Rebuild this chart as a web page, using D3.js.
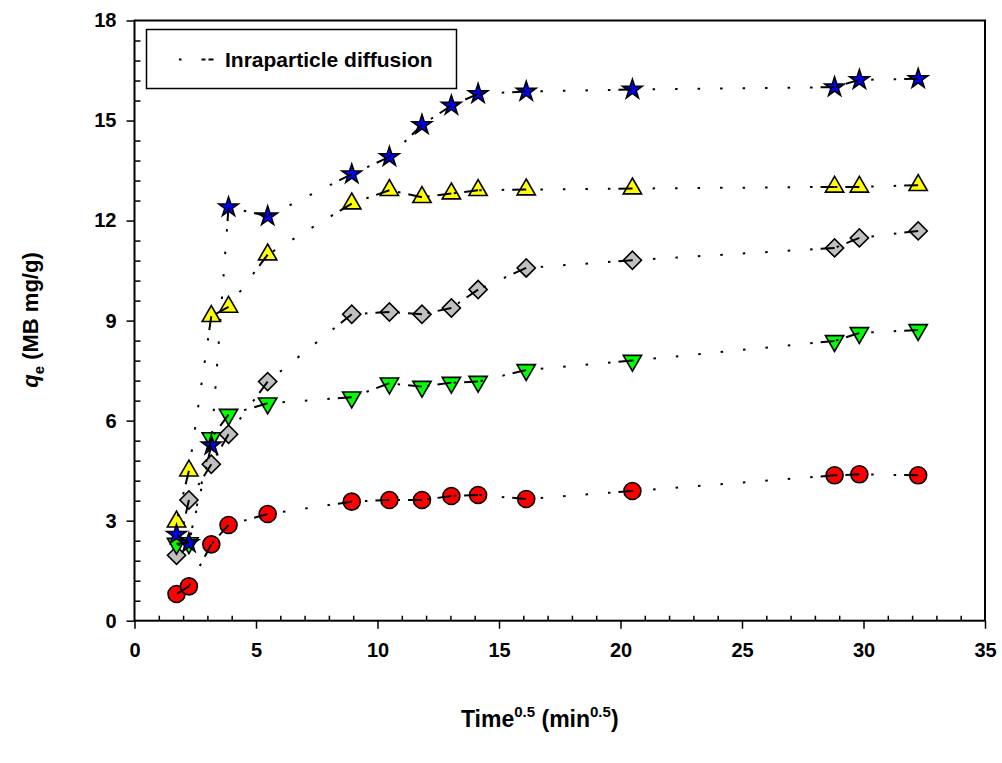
<!DOCTYPE html>
<html>
<head>
<meta charset="utf-8">
<script src="https://cdn.jsdelivr.net/npm/d3@7"></script>
<style>
    body { margin: 0; background: #fff; }
    text { font-family: "Liberation Sans", Arial, sans-serif; font-weight: bold; fill: #000; }
</style>
</head>
<body>
<svg id="chart" width="1002" height="763"></svg>
<script>
// sqrt(time) values shared by all series
const timeSqrt = [1.73, 2.24, 3.16, 3.87, 5.48, 8.94, 10.49, 11.83, 13.04, 14.14, 16.12, 20.49, 28.81, 29.83, 32.25];

// qe values, one array per marker series
const qCircle   = [0.80, 1.03, 2.29, 2.87, 3.20, 3.57, 3.62, 3.62, 3.74, 3.77, 3.65, 3.89, 4.36, 4.39, 4.36];
const qTriDown  = [2.31, 2.33, 5.48, 6.18, 6.52, 6.70, 7.12, 7.02, 7.14, 7.17, 7.52, 7.80, 8.39, 8.63, 8.72];
const qDiamond  = [1.96, 3.62, 4.69, 5.59, 7.17, 9.19, 9.26, 9.19, 9.38, 9.93, 10.58, 10.81, 11.18, 11.48, 11.69];
const qTriUp    = [2.97, 4.50, 9.13, 9.41, 10.98, 12.51, 12.91, 12.70, 12.81, 12.91, 12.93, 12.96, 13.01, 13.01, 13.06];
const qStar     = [2.58, 2.33, 5.26, 12.40, 12.13, 13.39, 13.91, 14.87, 15.45, 15.80, 15.87, 15.93, 16.00, 16.22, 16.25];

const xMajor = [0, 5, 10, 15, 20, 25, 30, 35];
const yMajor = [0, 3, 6, 9, 12, 15, 18];
const legendLabel = "Inraparticle diffusion";

const svg = d3.select("#chart");
const plot = { left: 134.5, right: 985, top: 20.5, bottom: 620.7 };

let xScale = d3.scaleLinear().domain([0, 35]).range([plot.left, plot.right]);
let yScale = d3.scaleLinear().domain([0, 18]).range([plot.bottom, plot.top]);

// minor ticks: every 1 on x, every 0.6 on y
let xMinor = d3.range(0, 35.01, 1).filter(v => v % 5 !== 0);
let yMinor = d3.range(0, 18.01, 0.6).map(v => +v.toFixed(1)).filter(v => Math.abs(v / 3 - Math.round(v / 3)) > 1e-6);

function styleAxis(g) {
    g.select(".domain").remove();
    g.selectAll("line").attr("stroke", "#000").attr("stroke-width", 1.5);
    g.selectAll("text").style("font-size", "20px").attr("fill", "#000");
}

// x axis: major ticks outside, minor inside
svg.append("g")
    .attr("transform", `translate(0,${plot.bottom})`)
    .call(d3.axisBottom(xScale).tickValues(xMajor).tickSize(8).tickPadding(14).tickFormat(d3.format("d")))
    .call(styleAxis);
svg.append("g")
    .attr("transform", `translate(0,${plot.bottom})`)
    .call(d3.axisBottom(xScale).tickValues(xMinor).tickSize(-5).tickFormat(""))
    .call(styleAxis);

// y axis
svg.append("g")
    .attr("transform", `translate(${plot.left},0)`)
    .call(d3.axisLeft(yScale).tickValues(yMajor).tickSize(8).tickPadding(10).tickFormat(d3.format("d")))
    .call(styleAxis);
svg.append("g")
    .attr("transform", `translate(${plot.left},0)`)
    .call(d3.axisLeft(yScale).tickValues(yMinor).tickSize(-6).tickFormat(""))
    .call(styleAxis);

// frame
svg.append("rect")
    .attr("x", plot.left).attr("y", plot.top)
    .attr("width", plot.right - plot.left).attr("height", plot.bottom - plot.top)
    .attr("fill", "none").attr("stroke", "#000").attr("stroke-width", 2);

const series = [
    { values: qCircle, symbol: d3.symbolCircle, size: 227, rotate: 0, fill: "#ff0000" },
    { values: qDiamond, symbol: d3.symbolSquare, size: 165, rotate: 45, fill: "#c0c0c0" },
    { values: qTriDown, symbol: d3.symbolTriangle, size: 145, rotate: 180, fill: "#00ff00" },
    { values: qTriUp, symbol: d3.symbolTriangle, size: 145, rotate: 0, fill: "#ffff00" },
    { values: qStar, symbol: d3.symbolStar, size: 118, rotate: 0, fill: "#0000ff" }
];

// markers first
series.forEach(function (s) {
    let pts = timeSqrt.map((t, i) => ({ x: t, y: s.values[i] }));
    svg.append("g").selectAll("path")
        .data(pts)
        .join("path")
        .attr("d", d3.symbol().type(s.symbol).size(s.size))
        .attr("transform", d => `translate(${xScale(d.x)},${yScale(d.y)}) rotate(${s.rotate})`)
        .attr("fill", s.fill)
        .attr("stroke", "#000")
        .attr("stroke-width", 1.6);
});

// dotted segments on top, each one drawn back from the later point so it begins with a dash
const dashPattern = "14,8," + d3.range(80).map(() => "2.5,20").join(",");
let lineGen = d3.line().x(d => xScale(d.x)).y(d => yScale(d.y));
series.forEach(function (s) {
    let pts = timeSqrt.map((t, i) => ({ x: t, y: s.values[i] }));
    let segs = d3.pairs(pts).map(p => [p[1], p[0]]);
    svg.append("g").selectAll("path")
        .data(segs)
        .join("path")
        .attr("d", lineGen)
        .attr("fill", "none")
        .attr("stroke", "#000")
        .attr("stroke-width", 2)
        .attr("stroke-dasharray", dashPattern);
});

// legend
let legend = svg.append("g");
legend.append("rect")
    .attr("x", 146.5).attr("y", 29.5).attr("width", 310).attr("height", 59)
    .attr("fill", "#fff").attr("stroke", "#000").attr("stroke-width", 1.5);
legend.append("line")
    .attr("x1", 179).attr("x2", 214).attr("y1", 59.5).attr("y2", 59.5)
    .attr("stroke", "#000").attr("stroke-width", 2)
    .attr("stroke-dasharray", "2.5,20,4,3,5");
legend.append("text")
    .attr("x", 225).attr("y", 66.5)
    .style("font-size", "21px")
    .text(legendLabel);

// axis titles
let xt = svg.append("text")
    .attr("x", (plot.left + plot.right) / 2 - 20).attr("y", 727)
    .attr("text-anchor", "middle")
    .style("font-size", "23px");
xt.append("tspan").text("Time");
xt.append("tspan").attr("dy", -10).style("font-size", "15px").text("0.5");
xt.append("tspan").attr("dy", 10).text(" (min");
xt.append("tspan").attr("dy", -10).style("font-size", "15px").text("0.5");
xt.append("tspan").attr("dy", 10).text(")");

let yt = svg.append("text")
    .attr("transform", "translate(38,320) rotate(-90)")
    .attr("text-anchor", "middle")
    .style("font-size", "22px");
yt.append("tspan").style("font-style", "italic").text("q");
yt.append("tspan").attr("dy", 6).style("font-size", "15px").text("e");
yt.append("tspan").attr("dy", -6).text(" (MB mg/g)");
</script>
</body>
</html>
